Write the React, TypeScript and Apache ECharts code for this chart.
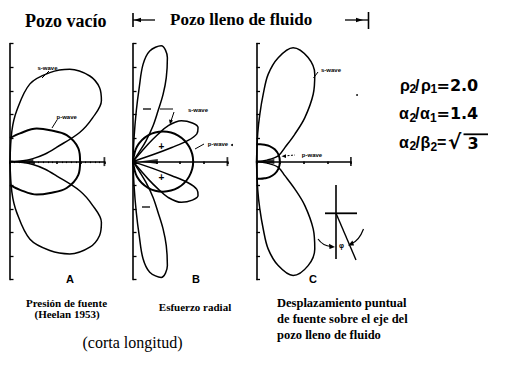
import React, { useEffect, useRef } from "react";
import * as echarts from "echarts";

// ---------- data: angle from the horizontal (radial) axis in degrees, radius in axis units ----------
// Panel A – Pozo vacío (pressure source, Heelan 1953)
const sWaveA_deg = [0, 4, 7.4, 12, 17, 22.7, 27.9, 33.6, 39.5, 47, 57.1, 65.9, 75.6, 82.5, 86.5, 90];
const sWaveA_r = [0, 0.55, 0.98, 1.5, 2.06, 3.2, 3.96, 4.65, 4.92, 4.96, 4.66, 4.13, 3.4, 2.17, 1.3, 0];
const pWaveA_deg = [0, 11, 25, 38, 51, 70.5, 90];
const pWaveA_r = [2.97, 2.95, 2.65, 2.16, 1.8, 1.27, 1.0];

// Panel B – Esfuerzo radial
const sWaveB_outer_deg = [55, 57, 58, 60.7, 63.7, 65.9, 68.4, 71.7, 76.3, 81.4, 84.1, 85.2, 86.3, 87.5, 90];
const sWaveB_outer_r = [0, 0.55, 1.04, 1.73, 2.39, 3.12, 3.83, 4.64, 5.05, 4.74, 4.14, 3.15, 2.15, 1.0, 0];
const sWaveB_inner_deg = [18, 19, 20, 21, 23.5, 27.6, 33, 40.1, 45.6, 47.5, 49, 53];
const sWaveB_inner_r = [0, 0.85, 1.75, 2.5, 2.95, 3.11, 3.0, 2.68, 2.12, 1.57, 0.97, 0];
const pWaveB_deg = [0, 15, 30, 45, 60, 75, 90];
const pWaveB_r = [2.55, 2.46, 2.21, 1.8, 1.28, 0.66, 0];

// Panel C – Desplazamiento puntual
const sWaveC_deg = [3, 8, 14.7, 26.3, 35.5, 42.3, 49.9, 56.3, 63.6, 72.2, 78.2, 82.4, 84.3, 86, 87.5, 90];
const sWaveC_r = [0, 0.45, 0.95, 1.34, 1.99, 2.77, 3.73, 4.45, 4.92, 5.07, 4.5, 3.73, 2.87, 2.01, 1.2, 0];
const pWaveC_deg = [0, 17, 34, 50, 64, 77, 90];
const pWaveC_r = [0.99, 0.98, 0.93, 0.86, 0.79, 0.75, 0.73];

// axis extents (units) and source marker position
const radialAxis = [0, 4];
const boreholeAxis = [-5, 5];
const panelLetters = ["A", "B", "C"];
const sourceMarkX = [0.65, 0.65, 0.48];

// ---------- layout ----------
const U = 23.6; // px per unit
const Y0 = 161.6;
const PANEL_X0 = [10, 133, 256.5];
const SOURCE_LEN = [16, 19, 13];

const SANS = "'Liberation Sans', 'DejaVu Sans', sans-serif";
const DEJAVU = "'DejaVu Sans', sans-serif";
const SERIF = "'Liberation Serif', 'DejaVu Serif', serif";

const toPolar = (deg: number[], r: number[], sign: number) => deg.map((d, i) => [r[i], sign * d]);
const sweep = (deg: number[], r: number[]) => [
  ...toPolar(deg, r, -1).reverse(),
  ...toPolar(deg, r, 1).slice(1),
];

type Lobe = { deg: number[]; r: number[]; kind: "lobe" | "sweep"; w: number };
const PANEL_LOBES: Lobe[][] = [
  [
    { deg: sWaveA_deg, r: sWaveA_r, kind: "lobe", w: 1.5 },
    { deg: pWaveA_deg, r: pWaveA_r, kind: "sweep", w: 2 },
  ],
  [
    { deg: sWaveB_outer_deg, r: sWaveB_outer_r, kind: "lobe", w: 1.5 },
    { deg: sWaveB_inner_deg, r: sWaveB_inner_r, kind: "lobe", w: 1.5 },
    { deg: pWaveB_deg, r: pWaveB_r, kind: "sweep", w: 2 },
  ],
  [
    { deg: sWaveC_deg, r: sWaveC_r, kind: "lobe", w: 1.5 },
    { deg: pWaveC_deg, r: pWaveC_r, kind: "sweep", w: 2 },
  ],
];

function txt(x: number, y: number, text: string, size: number, opts: any = {}) {
  const align = opts.align || "left";
  return {
    type: "text",
    x,
    y,
    silent: true,
    style: {
      text,
      fontSize: size,
      fontFamily: opts.family || SANS,
      fontWeight: opts.weight || "normal",
      fill: "#000",
      align,
      textAlign: align,
      verticalAlign: "middle",
      textVerticalAlign: "middle",
    },
  };
}
function ln(x1: number, y1: number, x2: number, y2: number, w = 1, dash?: number[]) {
  return {
    type: "line",
    silent: true,
    shape: { x1, y1, x2, y2 },
    style: { stroke: "#000", lineWidth: w, lineDash: dash },
  };
}
function tri(points: number[][]) {
  return { type: "polygon", silent: true, shape: { points }, style: { fill: "#000" } };
}

function buildOption() {
  const RMAX = 5.5;
  const grid: any[] = [];
  const xAxis: any[] = [];
  const yAxis: any[] = [];
  const polar: any[] = [];
  const angleAxis: any[] = [];
  const radiusAxis: any[] = [];
  const series: any[] = [];

  PANEL_X0.forEach((x0, i) => {
    grid.push({
      left: x0,
      top: Y0 - boreholeAxis[1] * U,
      width: (radialAxis[1] - radialAxis[0]) * U,
      height: (boreholeAxis[1] - boreholeAxis[0]) * U,
      containLabel: false,
    });
    xAxis.push({
      gridIndex: i,
      type: "value",
      min: radialAxis[0],
      max: radialAxis[1],
      interval: 1,
      axisLine: { show: true, onZero: true, lineStyle: { color: "#000", width: 1.6 } },
      axisTick: { show: true, length: 2.5, lineStyle: { color: "#000", width: 1.6 } },
      minorTick: { show: i === 0, splitNumber: 5, length: 1.5, lineStyle: { color: "#000", width: 1 } },
      axisLabel: { show: false },
      splitLine: { show: false },
    });
    yAxis.push({
      gridIndex: i,
      type: "value",
      min: boreholeAxis[0],
      max: boreholeAxis[1],
      interval: 1,
      axisLine: { show: true, onZero: false, lineStyle: { color: "#000", width: 1.6 } },
      axisTick: { show: true, inside: true, length: 3.5, lineStyle: { color: "#000", width: 1.3 } },
      axisLabel: { show: false },
      splitLine: { show: false },
    });
    polar.push({ center: [x0, Y0], radius: RMAX * U });
    angleAxis.push({
      polarIndex: i,
      type: "value",
      min: -180,
      max: 180,
      startAngle: 180,
      clockwise: false,
      show: false,
    });
    radiusAxis.push({ polarIndex: i, type: "value", min: 0, max: RMAX, show: false });

    PANEL_LOBES[i].forEach((lobe) => {
      const base = {
        type: "line",
        coordinateSystem: "polar",
        polarIndex: i,
        smooth: 0.35,
        symbol: "none",
        silent: true,
        lineStyle: { color: "#000", width: lobe.w },
        z: 3,
      };
      if (lobe.kind === "lobe") {
        series.push({ ...base, data: toPolar(lobe.deg, lobe.r, 1) });
        series.push({ ...base, data: toPolar(lobe.deg, lobe.r, -1) });
      } else {
        series.push({ ...base, data: sweep(lobe.deg, lobe.r) });
      }
    });

    // end bar of the radial axis
    series.push({
      type: "scatter",
      xAxisIndex: i,
      yAxisIndex: i,
      data: [[radialAxis[1], 0]],
      symbol: "rect",
      symbolSize: [1.8, 9],
      itemStyle: { color: "#000" },
      silent: true,
      z: 4,
    });
    // source marker
    series.push({
      type: "scatter",
      xAxisIndex: i,
      yAxisIndex: i,
      data: [[sourceMarkX[i], 0]],
      symbol: "triangle",
      symbolSize: [5, SOURCE_LEN[i]],
      symbolRotate: 90,
      itemStyle: { color: "#000" },
      silent: true,
      z: 4,
    });
  });

  const waveSize = 6;
  const graphic: any[] = [
    // headers
    txt(25, 20.5, "Pozo vacío", 18, { family: SERIF, weight: "bold" }),
    txt(170, 19, "Pozo lleno de fluido", 17, { family: SERIF, weight: "bold" }),
    ln(133, 13, 133, 27, 1.6),
    ln(133, 20, 155, 20, 1.3),
    tri([[134, 20], [141, 17.8], [141, 22.2]]),
    ln(345, 20, 368, 20, 1.3),
    tri([[363, 20], [356, 17.8], [356, 22.2]]),
    ln(368.5, 12, 368.5, 29, 1.6),

    // panel A labels
    txt(37.5, 68, "s-wave", waveSize, { weight: "bold" }),
    ln(49, 71, 42, 78, 1),
    txt(56.5, 117, "p-wave", waveSize, { weight: "bold" }),
    ln(57, 120, 52, 128, 1),

    // panel B labels
    ln(143, 109, 151, 109, 1.3),
    ln(160, 109, 173, 109, 1),
    txt(188, 109.5, "s-wave", waveSize, { weight: "bold" }),
    ln(174, 112, 171, 121, 1),
    tri([[170, 124.5], [169, 119.5], [173, 120.5]]),
    txt(161.5, 146, "+", 10, { weight: "bold", align: "center" }),
    txt(161.5, 177, "+", 10, { weight: "bold", align: "center" }),
    ln(142, 207, 150, 207, 1.3),
    ln(195, 149, 204, 144, 1),
    txt(218, 143.5, "p-wave", waveSize, { weight: "bold", align: "center" }),

    // panel C labels
    txt(331, 70, "s-wave", waveSize, { weight: "bold", align: "center" }),
    ln(318, 72, 313.5, 78, 1),
    ln(284, 156, 295, 155, 1, [2, 1.5]),
    tri([[281.5, 156.2], [286, 154.2], [286, 158]]),
    txt(312, 154.5, "p-wave", waveSize, { weight: "bold", align: "center" }),

    // inset sketch in panel C
    ln(336, 185, 336, 259, 1.6),
    ln(325, 213.3, 357, 213.3, 1.8),
    ln(336, 213.3, 356, 260, 1.4),
    {
      type: "bezierCurve",
      silent: true,
      shape: { x1: 318, y1: 239, x2: 331, y2: 246.5, cpx1: 323, cpy1: 246 },
      style: { stroke: "#000", lineWidth: 1.2, fill: "none" },
    },
    tri([[335, 247], [329, 243.8], [329.5, 249]]),
    {
      type: "bezierCurve",
      silent: true,
      shape: { x1: 363.5, y1: 229, x2: 351, y2: 244, cpx1: 359, cpy1: 241 },
      style: { stroke: "#000", lineWidth: 1.2, fill: "none" },
    },
    tri([[348, 245.5], [352.5, 240.5], [354, 245.5]]),
    txt(341.5, 245.5, "φ", 7, { weight: "bold", align: "center" }),

    // specks
    { type: "circle", silent: true, shape: { cx: 232, cy: 145, r: 1 }, style: { fill: "#000" } },
    { type: "circle", silent: true, shape: { cx: 357, cy: 95, r: 0.9 }, style: { fill: "#000" } },

    // equations
    txt(400, 85, "ρ", 16, { weight: "bold" }),
    txt(409.5, 89, "2", 12, { weight: "bold" }),
    txt(415, 85, "/", 16, { weight: "bold" }),
    txt(421, 85, "ρ", 16, { weight: "bold" }),
    txt(430.5, 89, "1", 12, { weight: "bold" }),
    txt(436.5, 85, "=2.0", 16, { weight: "bold", family: DEJAVU }),

    txt(399, 113.5, "α", 16, { weight: "bold" }),
    txt(409.5, 117.5, "2", 12, { weight: "bold" }),
    txt(415, 113.5, "/", 16, { weight: "bold" }),
    txt(420, 113.5, "α", 16, { weight: "bold" }),
    txt(430, 117.5, "1", 12, { weight: "bold" }),
    txt(436.5, 113.5, "=1.4", 16, { weight: "bold", family: DEJAVU }),

    txt(399, 142, "α", 16, { weight: "bold" }),
    txt(409.5, 146, "2", 12, { weight: "bold" }),
    txt(415.5, 142, "/", 16, { weight: "bold" }),
    txt(420.5, 142, "β", 16, { weight: "bold" }),
    txt(430.5, 146.5, "2", 12, { weight: "bold" }),
    txt(437, 142, "=", 16, { weight: "bold" }),
    txt(448, 142, "√", 20, { weight: "bold", family: DEJAVU }),
    ln(463.5, 134.3, 488, 134.3, 1.8),
    txt(467.5, 143, "3", 16, { weight: "bold", family: DEJAVU }),

    // panel letters
    ...panelLetters.map((l, i) =>
      txt([70, 196, 313][i], 278.5, l, 11, { weight: "bold", align: "center" })
    ),

    // captions
    txt(66.5, 303, "Presión de fuente", 11, { family: SERIF, weight: "bold", align: "center" }),
    txt(67, 314, "(Heelan 1953)", 11, { family: SERIF, weight: "bold", align: "center" }),
    txt(195, 307, "Esfuerzo radial", 11, { family: SERIF, weight: "bold", align: "center" }),
    txt(132.5, 342, "(corta longitud)", 16, { family: SERIF, align: "center" }),
    txt(277, 303, "Desplazamiento puntual", 12.5, { family: SERIF, weight: "bold" }),
    txt(277, 319, "de fuente sobre el eje del", 12.5, { family: SERIF, weight: "bold" }),
    txt(277, 335, "pozo lleno de fluido", 12.5, { family: SERIF, weight: "bold" }),
  ];

  return {
    animation: false,
    backgroundColor: "#fff",
    grid,
    xAxis,
    yAxis,
    polar,
    angleAxis,
    radiusAxis,
    series,
    graphic: { elements: graphic },
  };
}

export default function App() {
  const ref = useRef<HTMLDivElement>(null);
  useEffect(() => {
    if (!ref.current) return;
    const chart = echarts.init(ref.current, null, { renderer: "svg" });
    chart.setOption(buildOption() as any);
    return () => chart.dispose();
  }, []);
  return (
    <div
      ref={ref}
      style={{ position: "fixed", left: 0, top: 0, width: 509, height: 375, background: "#fff" }}
    />
  );
}
